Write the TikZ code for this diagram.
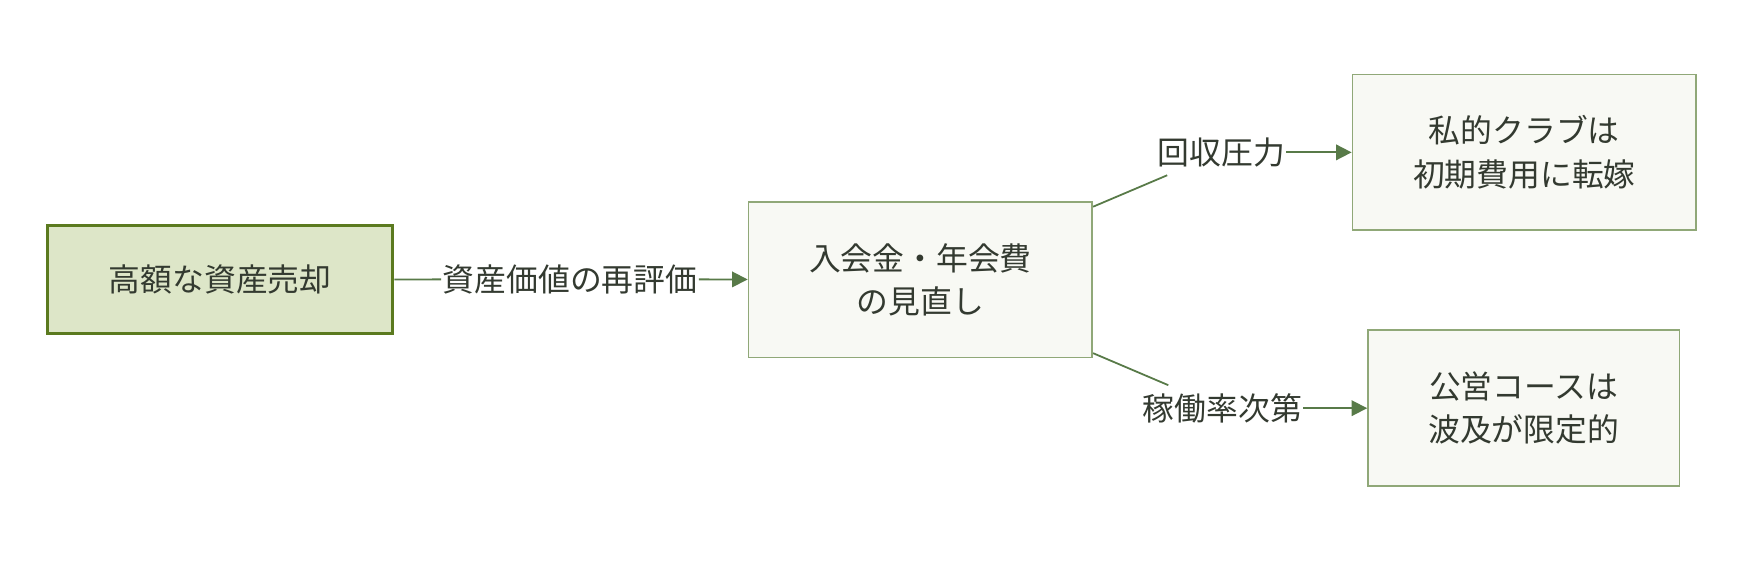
\documentclass[tikz,border=0pt]{standalone}
\usepackage{fontspec}
\setmainfont{Noto Sans CJK JP}
\usetikzlibrary{arrows.meta}

\definecolor{srcfill}{HTML}{DDE6C8}
\definecolor{srcline}{HTML}{5B7A1F}
\definecolor{boxfill}{HTML}{F8F9F4}
\definecolor{boxline}{HTML}{90A878}
\definecolor{edgecol}{HTML}{587A48}
\definecolor{txtcol}{HTML}{333A30}

\tikzset{
  every node/.style={text=txtcol, font=\fontsize{14.3}{19.5}\selectfont},
  srcbox/.style={draw=srcline, fill=srcfill, line width=1.5pt,
    minimum width=155pt, minimum height=48.5pt, align=center},
  stepbox/.style={draw=boxline, fill=boxfill, line width=0.8pt,
    minimum width=154.5pt, minimum height=70pt, align=center},
  lbl/.style={inner xsep=0.5pt, inner ysep=3.5pt},
  edge/.style={draw=edgecol, line width=0.8pt},
  arr/.style={edge, -{Triangle[length=7pt,width=7pt]}}
}

\begin{document}
\begin{tikzpicture}[x=0.5pt,y=-0.5pt]
\useasboundingbox (0,0) rectangle (1568,507.1);
% boxes
\node [srcbox] (sale) at (198,251.5) {高額な資産売却};
\node [stepbox] (fee) at (827.5,251.5) {入会金・年会費\\の見直し};
\node [stepbox] (priv) at (1370.5,137) {私的クラブは\\初期費用に転嫁};
\node [stepbox, minimum width=140pt] (pub) at (1370,367) {公営コースは\\波及が限定的};
% edge labels
\node [lbl] (reval) at (512.5,251) {資産価値の再評価};
\node [lbl] (press) at (1098,137) {回収圧力};
\node [lbl] (rate) at (1099,367) {稼働率次第};
% edges
\draw [edge] (sale) -- (reval);
\draw [arr] (reval) -- (fee);
\draw [edge] (fee) -- (press);
\draw [arr] (press) -- (priv);
\draw [edge] (fee) -- (rate);
\draw [arr] (rate) -- (pub);
\end{tikzpicture}
\end{document}
